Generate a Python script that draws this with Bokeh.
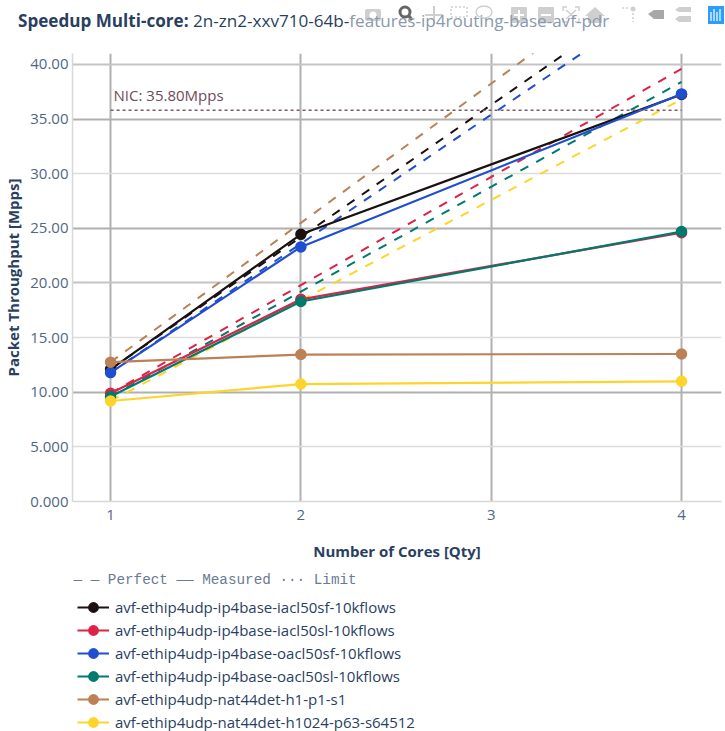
from bokeh.plotting import figure
from bokeh.embed import file_html
from bokeh.resources import INLINE
from bokeh.layouts import column
from bokeh.models import Label, Range1d, FixedTicker, Legend, LegendItem, Div, Grid

cores = [1, 2, 4]
names = ["avf-ethip4udp-ip4base-iacl50sf-10kflows", "avf-ethip4udp-ip4base-iacl50sl-10kflows",
         "avf-ethip4udp-ip4base-oacl50sf-10kflows", "avf-ethip4udp-ip4base-oacl50sl-10kflows",
         "avf-ethip4udp-nat44det-h1-p1-s1", "avf-ethip4udp-nat44det-h1024-p63-s64512"]
colors = ["#1a1110", "#dc2347", "#1f4ecf", "#007a6c", "#bc8055", "#ffd42a"]
measured = [[12.1, 24.45, 37.25], [9.9, 18.5, 24.6], [11.8, 23.3, 37.3],
            [9.6, 18.3, 24.7], [12.75, 13.45, 13.5], [9.2, 10.75, 11.0]]
perfect = [[12.1, 24.2, 48.4], [9.9, 19.8, 39.6], [11.8, 23.6, 47.2],
           [9.6, 19.2, 38.4], [12.75, 25.5, 51.0], [9.2, 18.4, 36.8]]
nic_limit = 35.8
y_ticks = [0, 5, 10, 15, 20, 25, 30, 35, 40]
y_labels = ["0.000", "5.000", "10.00", "15.00", "20.00", "25.00", "30.00", "35.00", "40.00"]
hint = "\u2014 \u2014 Perfect  \u2014\u2014 Measured \u00b7\u00b7\u00b7 Limit"

FONT = "Open Sans"
TICK = "#506784"
AXT = "#2a3f5f"
G = "#cfcfcf"

modebar = f'''<svg width="725" height="30" style="position:absolute;left:0;top:0" xmlns="http://www.w3.org/2000/svg">
<rect x="365" y="9" width="16" height="12" rx="2" fill="{G}"/><circle cx="373" cy="15" r="3.5" fill="#fff"/>
<circle cx="405" cy="12" r="5" fill="none" stroke="#666" stroke-width="3"/><line x1="409" y1="16" x2="412" y2="20" stroke="#666" stroke-width="3"/>
<path d="M434 6V24M425 15H443" stroke="{G}" stroke-width="2"/>
<rect x="451" y="7" width="16" height="10" fill="none" stroke="{G}" stroke-width="1.5" stroke-dasharray="2 2"/>
<ellipse cx="484" cy="12" rx="8" ry="6" fill="none" stroke="{G}" stroke-width="1.5"/>
<rect x="511" y="7" width="16" height="16" rx="1" fill="{G}"/><path d="M514 15H524M519 10V20" stroke="#fff" stroke-width="2"/>
<rect x="538" y="7" width="16" height="16" rx="1" fill="{G}"/><path d="M541 15H551" stroke="#fff" stroke-width="2"/>
<path d="M563 11V7H567M575 7H579V11M579 18V22H575M567 22H563V18M566 10L576 19M576 10L566 19" fill="none" stroke="{G}" stroke-width="1.5"/>
<path d="M595 7L605 16H602V23H588V16H585Z" fill="{G}"/>
<path d="M622 8H630M633 13V22" stroke="{G}" stroke-width="1.5" stroke-dasharray="2 2"/><circle cx="633" cy="9" r="2.5" fill="{G}"/>
<path d="M648 14L654 10H664V19H654Z" fill="#a8a8a8"/>
<path d="M675 10L679 7H691V12H679ZM675 19L679 16H691V22H679Z" fill="{G}"/>
<rect x="708" y="6" width="16" height="18" fill="#2b9dff"/><path d="M711 12V21M714 9V21M717 12V21M720 9V21" stroke="#fff" stroke-width="1.2"/>
</svg>'''

title = Div(text=f'''<div style="position:relative;width:725px;height:53px;font-family:'Open Sans';font-size:17.1px;color:{AXT};white-space:nowrap;">
{modebar}<div style="position:absolute;left:18px;top:9px;"><b>Speedup Multi-core:</b> 2n-zn2-xxv710-64b-<span style="color:#8a99ae">features-ip4routing-base-avf-pdr</span></div>
</div>''', width=725, height=53, margin=(0, 0, 0, 0))

p = figure(width=725, height=510, output_backend="svg", toolbar_location=None,
           x_range=Range1d(0.8, 4.21), y_range=Range1d(0, 41),
           min_border_left=72, min_border_right=4, min_border_top=0, min_border_bottom=62)
p.outline_line_color = None

for ax in (p.xaxis[0], p.yaxis[0]):
    ax.axis_line_color = "#d8d8d8"
    ax.axis_line_width = 1.5
    ax.major_tick_line_color = None
    ax.minor_tick_line_color = None
    ax.major_tick_out = 0
    ax.major_tick_in = 0
    ax.minor_tick_out = 0
    ax.minor_tick_in = 0
    ax.major_label_text_font = FONT
    ax.major_label_text_font_size = "15px"
    ax.major_label_text_color = TICK
    ax.axis_label_text_font = FONT
    ax.axis_label_text_font_size = "15px"
    ax.axis_label_text_font_style = "bold"
    ax.axis_label_text_color = AXT
p.xaxis[0].ticker = FixedTicker(ticks=[1, 2, 3, 4])
p.yaxis[0].ticker = FixedTicker(ticks=y_ticks)
p.yaxis[0].major_label_overrides = dict(zip(y_ticks, y_labels))
p.xaxis[0].axis_label = "Number of Cores [Qty]"
p.yaxis[0].axis_label = "Packet Throughput [Mpps]"
p.xaxis[0].major_label_standoff = 8
p.yaxis[0].major_label_standoff = 4
p.xaxis[0].axis_label_standoff = 18
p.yaxis[0].axis_label_standoff = 4
p.xgrid[0].grid_line_color = "#b0b0b0"
p.xgrid[0].grid_line_width = 2
p.ygrid[0].visible = False
for ticks, color, width in [([10, 25, 35], "#b0b0b0", 2), ([20, 40], "#c4c4c4", 2), ([5, 15, 30], "#dcdcdc", 1.5)]:
    p.add_layout(Grid(dimension=1, ticker=FixedTicker(ticks=ticks), grid_line_color=color, grid_line_width=width))

for i in range(6):
    p.line(cores, perfect[i], line_color=colors[i], line_width=2, line_dash="9 9")
for i in range(6):
    p.line(cores, measured[i], line_color=colors[i], line_width=2.2)
    p.scatter(cores, measured[i], size=9.5, fill_color=colors[i], line_color=colors[i], line_width=2)
p.line([1, 4], [nic_limit, nic_limit], line_color="#7a5a6a", line_width=1.5, line_dash="3 3")

p.add_layout(Label(text="NIC: 35.80Mpps", x=1, y=nic_limit, x_offset=3, y_offset=5,
                   text_font=FONT, text_font_size="15px", text_color="#6d4c5c"))

# Legend strip under the plot: its ranges keep the series out of view, only the legend shows
q = figure(width=725, height=168, output_backend="svg", toolbar_location=None,
           x_axis_type=None, y_axis_type=None, x_range=Range1d(100, 200), y_range=Range1d(100, 200),
           min_border=0)
q.outline_line_color = None
q.grid.visible = False
items = []
for i in range(6):
    l = q.line(cores, measured[i], line_color=colors[i], line_width=2.2)
    c = q.scatter(cores, measured[i], size=9.5, fill_color=colors[i], line_color=colors[i], line_width=2)
    items.append(LegendItem(label=names[i], renderers=[l, c]))
lg = Legend(items=items, location=(5, -2), orientation="vertical", border_line_color=None,
            background_fill_alpha=0, label_text_font=FONT, label_text_font_size="15px",
            label_text_color=AXT, glyph_width=32, glyph_height=22, label_height=22, spacing=1,
            padding=0, margin=0, label_standoff=6)
q.add_layout(lg, "center")
q.add_layout(Label(text=hint, x=1, y=152, x_units="screen", y_units="screen", text_baseline="middle",
                   text_font="Liberation Mono", text_font_size="14.3px", text_color="#6a7a94"))

open("out.html", "w").write(file_html(column(title, p, q, spacing=0), INLINE))
